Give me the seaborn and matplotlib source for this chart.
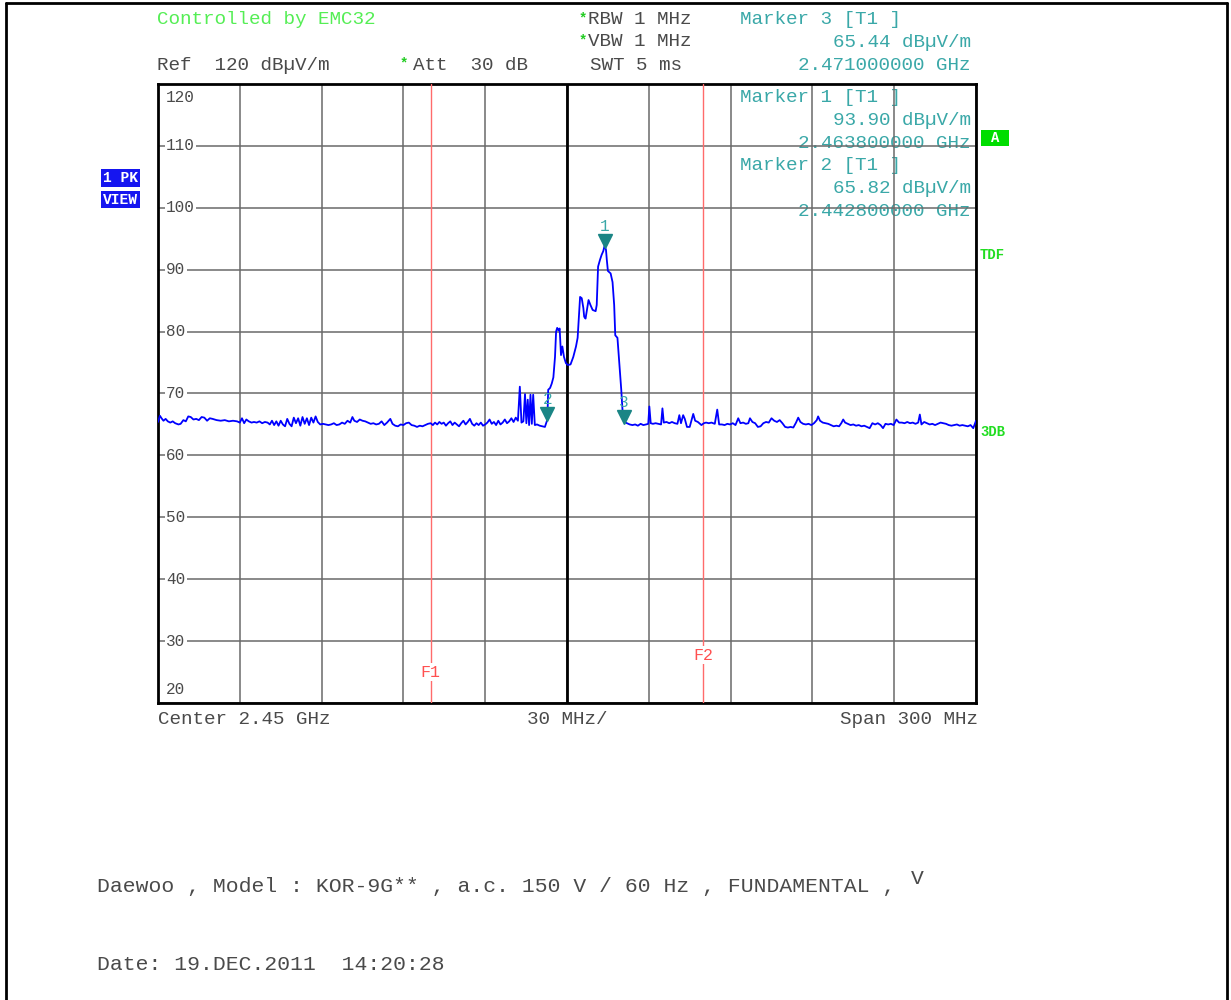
import numpy as np
import pandas as pd
import seaborn as sns
import matplotlib.pyplot as plt
import matplotlib.transforms as mtransforms
from matplotlib.patches import Rectangle
from matplotlib.lines import Line2D

sns.set_theme(style="white")
plt.rcParams['font.family'] = ['Liberation Mono', 'DejaVu Sans Mono']

W, H = 1231, 1000

# analyzer settings
center_mhz = 2450.0
span_mhz = 300.0
ref_level = 120
bottom_level = 20
f1_mhz = 2400.0
f2_mhz = 2500.0

# trace: offset from start frequency (MHz) and level (dBuV/m)
trace_offset_mhz = [
    0.0, 0.7, 1.3, 2.0, 2.8, 3.6, 4.5, 5.4, 6.3, 7.5,
    8.3, 9.3, 10.2, 11.1, 12.0, 13.0, 14.0, 15.0, 16.0, 17.0,
    18.0, 19.0, 20.0, 21.5, 23.0, 24.5, 26.0, 27.5, 29.0, 30.0,
    30.8, 31.6, 32.4, 33.3, 34.3, 35.2, 36.2, 37.2, 38.2, 39.2,
    40.2, 41.0, 41.8, 42.6, 43.4, 44.2, 45.0, 45.8, 46.6, 47.4,
    48.2, 49.0, 49.8, 50.6, 51.4, 52.2, 53.0, 53.8, 54.6, 55.4,
    56.2, 57.0, 57.8, 58.6, 59.5, 60.5, 61.5, 62.5, 63.5, 64.5,
    65.5, 66.5, 67.5, 68.5, 69.5, 70.5, 71.3, 72.0, 73.0, 74.0,
    75.0, 76.0, 77.0, 78.0, 79.0, 80.0, 81.0, 82.0, 83.0, 84.0,
    85.2, 86.0, 87.0, 88.0, 89.0, 90.0, 91.0, 92.0, 93.0, 94.0,
    95.0, 96.0, 97.0, 98.0, 99.0, 100.0, 100.8, 101.6, 102.4, 103.2,
    104.0, 104.8, 105.6, 106.4, 107.2, 108.0, 108.8, 109.6, 110.4, 111.2,
    112.0, 112.8, 113.6, 114.4, 115.2, 116.0, 116.8, 117.6, 118.4, 119.2,
    120.0, 120.8, 121.6, 122.4, 123.2, 124.0, 124.8, 125.6, 126.4, 127.2,
    128.0, 128.8, 129.6, 130.4, 131.2, 132.0, 132.7, 133.3, 134.0, 134.6,
    135.1, 135.6, 136.1, 136.6, 137.1, 137.6, 138.2, 139.0, 140.0, 141.0,
    141.9, 142.8, 143.1, 143.8, 144.4, 145.0, 145.6, 146.0, 146.4, 146.9,
    147.3, 147.8, 148.3, 148.9, 149.6, 150.3, 151.3, 152.3, 153.3, 153.9,
    154.4, 154.8, 155.4, 156.0, 156.3, 156.8, 157.3, 157.9, 158.6, 159.4,
    160.5, 160.9, 161.4, 162.1, 162.7, 163.3, 163.8, 164.3, 164.6, 165.0,
    166.0, 166.7, 167.3, 167.7, 168.5, 169.2, 169.9, 170.5, 171.0, 172.0,
    173.0, 174.0, 175.0, 176.0, 177.0, 178.0, 179.0, 179.8, 180.2, 180.7,
    181.5, 182.5, 183.5, 184.5, 185.0, 185.5, 186.5, 187.5, 188.5, 189.5,
    190.5, 191.2, 191.8, 192.6, 193.2, 194.0, 195.0, 196.3, 197.0, 198.0,
    199.3, 200.2, 201.0, 202.0, 203.0, 204.2, 205.1, 205.8, 206.8, 207.8,
    208.8, 209.8, 210.8, 211.8, 212.8, 213.6, 214.6, 215.6, 216.5, 217.1,
    218.0, 219.0, 220.0, 221.0, 222.0, 223.0, 224.0, 225.0, 226.0, 227.0,
    228.0, 229.0, 230.0, 231.0, 232.0, 233.0, 234.0, 234.8, 235.6, 236.6,
    237.6, 238.6, 239.6, 240.6, 241.6, 242.1, 242.8, 243.8, 244.8, 245.8,
    246.8, 247.8, 248.8, 249.8, 250.6, 251.3, 252.0, 253.0, 254.0, 255.0,
    256.0, 257.0, 258.0, 259.0, 260.0, 261.0, 262.0, 263.0, 264.0, 265.0,
    265.9, 266.8, 267.8, 268.8, 269.8, 270.8, 271.8, 272.8, 273.8, 274.8,
    275.8, 276.8, 277.8, 278.8, 279.4, 280.0, 281.0, 282.0, 283.0, 284.0,
    285.0, 286.0, 287.0, 288.0, 289.0, 290.0, 291.0, 292.0, 293.0, 294.0,
    295.0, 296.0, 297.0, 298.0, 299.0, 300.0,
]
trace_level_dbuv = [
    65.4, 66.4, 66.0, 65.6, 65.9, 65.5, 65.3, 65.5, 65.2, 65.0,
    65.1, 65.7, 65.5, 66.3, 66.2, 65.8, 65.9, 65.7, 66.2, 66.1,
    65.6, 66.0, 65.9, 65.7, 65.6, 65.7, 65.5, 65.6, 65.5, 65.3,
    66.0, 65.2, 65.8, 65.5, 65.3, 65.4, 65.3, 65.5, 65.2, 65.4,
    65.3, 65.0, 65.6, 64.9, 65.5, 64.8, 65.6, 65.0, 64.7, 65.9,
    65.1, 64.7, 66.1, 65.2, 66.0, 64.8, 66.2, 65.1, 66.0, 64.9,
    66.1, 65.3, 66.3, 65.4, 65.0, 65.1, 65.0, 64.9, 65.0, 65.2,
    64.9, 65.0, 65.3, 65.1, 65.6, 65.3, 66.2, 65.6, 65.4, 65.8,
    65.6, 65.5, 65.3, 65.1, 65.2, 65.0, 65.1, 65.5, 64.9, 65.3,
    65.9, 65.1, 64.8, 64.7, 65.0, 64.9, 65.2, 65.3, 64.9, 64.8,
    64.6, 64.8, 64.7, 64.9, 65.1, 65.2, 64.9, 65.3, 65.0, 65.4,
    65.1, 65.3, 64.8, 65.2, 65.5, 64.9, 65.3, 65.0, 64.7, 65.2,
    65.6, 65.0, 65.4, 65.9, 65.1, 64.8, 65.2, 64.9, 65.3, 64.8,
    65.0, 65.3, 65.8, 65.1, 65.4, 64.9, 65.6, 65.0, 65.3, 65.8,
    65.2, 65.5, 66.0, 65.4, 66.1, 65.6, 71.1, 65.3, 65.5, 69.9,
    65.2, 69.0, 64.9, 69.8, 65.1, 69.8, 64.9, 65.0, 64.8, 64.7,
    64.6, 65.8, 70.6, 70.9, 71.6, 72.6, 75.9, 80.0, 80.6, 80.2,
    80.5, 76.2, 77.6, 75.9, 74.9, 74.6, 74.7, 75.9, 77.6, 79.0,
    82.6, 85.6, 85.4, 83.8, 82.4, 82.1, 83.5, 85.1, 84.3, 83.5,
    83.3, 84.3, 90.5, 91.6, 92.4, 93.0, 93.9, 93.2, 91.6, 89.8,
    89.4, 88.0, 84.3, 79.4, 79.0, 74.9, 70.6, 66.3, 65.4, 65.2,
    65.0, 64.9, 65.0, 64.8, 65.1, 64.9, 65.0, 65.1, 67.9, 65.2,
    65.1, 65.2, 65.1, 65.0, 67.6, 65.3, 65.4, 65.2, 65.4, 65.2,
    65.1, 66.5, 65.2, 66.5, 65.9, 64.6, 64.6, 66.7, 65.6, 65.4,
    64.9, 65.2, 65.3, 65.2, 65.3, 65.1, 67.4, 65.0, 65.0, 64.9,
    65.1, 65.0, 65.2, 64.9, 66.0, 65.2, 65.3, 65.1, 65.2, 66.0,
    65.4, 65.2, 64.6, 64.7, 65.2, 65.4, 65.3, 66.0, 65.6, 65.4,
    65.7, 65.2, 64.6, 64.5, 64.6, 64.5, 65.3, 66.1, 65.4, 65.1,
    65.0, 65.1, 64.9, 65.2, 65.7, 66.3, 65.6, 65.3, 65.2, 65.1,
    64.9, 64.7, 64.8, 64.7, 65.2, 65.8, 65.3, 65.1, 64.9, 65.0,
    64.8, 64.9, 64.7, 64.8, 64.6, 64.4, 65.2, 65.0, 65.2, 64.9,
    64.4, 65.1, 65.0, 65.1, 64.9, 65.8, 65.3, 65.3, 65.2, 65.4,
    65.2, 65.3, 65.1, 65.3, 66.6, 65.0, 65.4, 65.2, 65.0, 65.1,
    64.9, 65.1, 65.3, 65.2, 65.1, 64.9, 64.8, 64.9, 65.0, 64.8,
    64.9, 64.8, 64.7, 64.9, 64.4, 65.6,
]
assert len(trace_offset_mhz) == len(trace_level_dbuv)

# markers
marker_ids = ['1', '2', '3']
marker_ghz = [2.4638, 2.4428, 2.471]
marker_dbuv = [93.90, 65.82, 65.44]

start_mhz = center_mhz - span_mhz / 2
df = pd.DataFrame({
    'freq': [start_mhz + f for f in trace_offset_mhz],
    'level': trace_level_dbuv,
})

TXT = '#4a4a4a'
TEAL = '#3aa8a8'
GREEN = '#22dd22'
FS = 13.9


def fx(x):
    return x / W


def fy(y):
    return 1 - y / H


fig = plt.figure(figsize=(W / 100, H / 100), dpi=100)
ax = fig.add_axes([fx(158), fy(703), 818 / W, 619 / H])

sns.lineplot(data=df, x='freq', y='level', ax=ax, color='#0000ff', lw=1.3,
             estimator=None, sort=False, zorder=5)

ax.set_xlim(start_mhz, start_mhz + span_mhz)
ax.set_ylim(bottom_level, ref_level)
ax.set_xticks(np.arange(start_mhz, start_mhz + span_mhz + 1, span_mhz / 10))
ax.set_yticks(np.arange(bottom_level, ref_level + 1, 10))
ax.tick_params(labelbottom=False, labelleft=False, length=0)
ax.set_xlabel('')
ax.set_ylabel('')
ax.set_axisbelow(True)
ax.grid(True, color='#6a6a6a', lw=1.1)
for s in ax.spines.values():
    s.set_color('black')
    s.set_linewidth(2)

ax.axvline(center_mhz, color='black', lw=2, zorder=2)
for f, name, ypos in [(f1_mhz, 'F1', 0.05), (f2_mhz, 'F2', 0.0775)]:
    ax.axvline(f, color='#ff6b6b', lw=1, zorder=3)
    ax.text(f, ypos, name, transform=mtransforms.blended_transform_factory(ax.transData, ax.transAxes),
            ha='center', va='center', color='#ff5050', fontsize=12, zorder=4,
            bbox=dict(fc='white', ec='none', pad=1))

# level labels drawn inside the grid
blend = mtransforms.blended_transform_factory(ax.transAxes, ax.transData)
for v in range(bottom_level, ref_level + 1, 10):
    dy = 0
    if v == ref_level:
        dy = -9.4
    elif v == bottom_level:
        dy = 9.4
    ax.annotate(str(v), xy=(0, v), xycoords=blend, xytext=(5.8, dy), textcoords='offset points',
                ha='left', va='center', color=TXT, fontsize=11.5, zorder=4,
                bbox=dict(fc='white', ec='none', pad=1) if dy == 0 else None)

# marker triangles and numbers
marker_mhz = [g * 1000 for g in marker_ghz]
up = mtransforms.ScaledTranslation(0, 5 / 100, fig.dpi_scale_trans)
ax.plot(marker_mhz, marker_dbuv, ls='none', marker='v', ms=10, color='#1a8585',
        transform=ax.transData + up, zorder=6)
for mid, f, lv in zip(marker_ids, marker_mhz, marker_dbuv):
    ax.annotate(mid, xy=(f, lv), xytext=(0, 14), textcoords='offset points',
                ha='center', va='center', color=TEAL, fontsize=11.5, zorder=6)

# marker readouts (marker 3 above the grid, 1 and 2 inside it)
readout_rows = [(marker_ids[2], 20), (marker_ids[0], 98), (marker_ids[1], 166)]
for mid, y0 in readout_rows:
    i = marker_ids.index(mid)
    ax.text(fx(740), fy(y0), f'Marker {mid} [T1 ]', transform=fig.transFigure,
            ha='left', va='center', color=TEAL, fontsize=FS, zorder=0.2, clip_on=False)
    ax.text(fx(971), fy(y0 + 22.5), f'{marker_dbuv[i]:.2f} dBµV/m', transform=fig.transFigure,
            ha='right', va='center', color=TEAL, fontsize=FS, zorder=0.2, clip_on=False)
    ax.text(fx(971), fy(y0 + 45), f'{marker_ghz[i]:.9f} GHz', transform=fig.transFigure,
            ha='right', va='center', color=TEAL, fontsize=FS, zorder=0.2, clip_on=False)

# header
fig.text(fx(157), fy(20), 'Controlled by EMC32', color='#55ee55', fontsize=FS, va='center')
fig.text(fx(157), fy(65), 'Ref  120 dBµV/m', color=TXT, fontsize=FS, va='center')
fig.text(fx(413), fy(65), 'Att  30 dB', color=TXT, fontsize=FS, va='center')
fig.text(fx(588), fy(20), 'RBW 1 MHz', color=TXT, fontsize=FS, va='center')
fig.text(fx(588), fy(42), 'VBW 1 MHz', color=TXT, fontsize=FS, va='center')
fig.text(fx(590), fy(65), 'SWT 5 ms', color=TXT, fontsize=FS, va='center')
for x0, y0 in [(579, 18), (579, 40), (400, 63)]:
    fig.text(fx(x0), fy(y0), '*', color='#22cc22', fontsize=10, va='center', fontweight='bold')

# footer of the screen
fig.text(fx(158), fy(720), 'Center 2.45 GHz', color=TXT, fontsize=FS, va='center')
fig.text(fx(567), fy(720), '30 MHz/', color=TXT, fontsize=FS, va='center', ha='center')
fig.text(fx(978), fy(720), 'Span 300 MHz', color=TXT, fontsize=FS, va='center', ha='right')

# side badges
for y0, y1, label in [(169, 187, '1 PK'), (191, 208, 'VIEW')]:
    fig.patches.append(Rectangle((fx(101), fy(y1)), 39 / W, (y1 - y0) / H,
                                 transform=fig.transFigure, fc='#1515f0', ec='none'))
    fig.text(fx(120.5), fy((y0 + y1) / 2), label, color='white', fontsize=10.5,
             fontweight='bold', ha='center', va='center')
fig.patches.append(Rectangle((fx(981), fy(146)), 28 / W, 16 / H,
                             transform=fig.transFigure, fc='#00dd00', ec='none'))
fig.text(fx(995), fy(138), 'A', color='white', fontsize=10, fontweight='bold', ha='center', va='center')
fig.text(fx(980), fy(255), 'TDF', color=GREEN, fontsize=10, fontweight='bold', va='center')
fig.text(fx(980), fy(432), '3DB', color=GREEN, fontsize=10, fontweight='bold', va='center')

# page notes
fig.text(fx(97), fy(886), 'Daewoo , Model : KOR-9G** , a.c. 150 V / 60 Hz , FUNDAMENTAL ,',
         color=TXT, fontsize=15.4, va='center')
fig.text(fx(911), fy(879), 'V', color=TXT, fontsize=15.4, va='center')
fig.text(fx(97), fy(965), 'Date: 19.DEC.2011  14:20:28', color=TXT, fontsize=15.4, va='center')

# page border
for xs, ys in [([6, 1227], [3, 3]), ([6, 6], [3, 1000]), ([1227, 1227], [3, 1000])]:
    fig.add_artist(Line2D([fx(v) for v in xs], [fy(v) for v in ys], color='black', lw=2,
                          transform=fig.transFigure))

fig.savefig('out.png', dpi=100)
